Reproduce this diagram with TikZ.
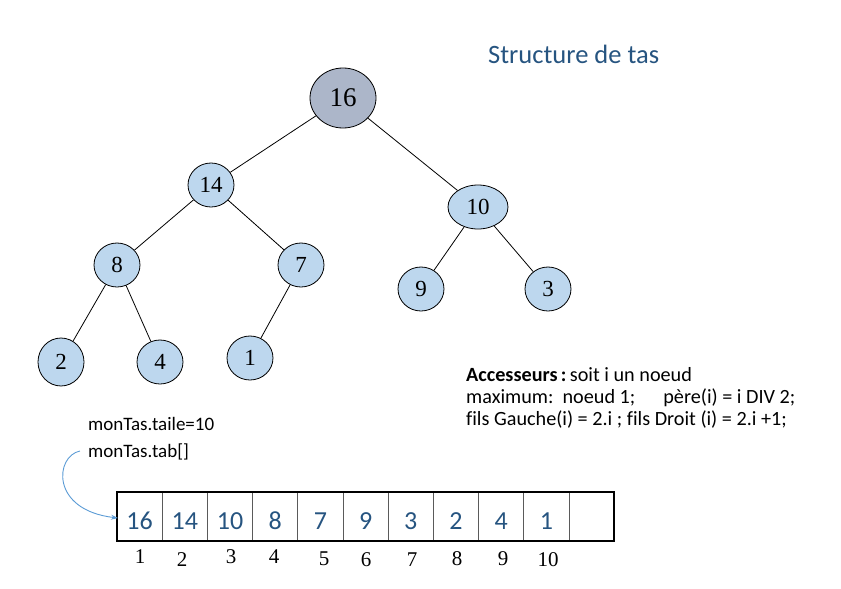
\documentclass[tikz,border=0pt]{standalone}
\usepackage{fontspec}
\setmainfont{Liberation Serif}
\newfontfamily\calib[Ligatures=NoCommon]{Carlito}
\usetikzlibrary{shapes.geometric,arrows.meta}
\definecolor{nodefill}{RGB}{189,215,238}
\definecolor{rootfill}{RGB}{172,182,201}
\definecolor{bluetext}{RGB}{38,84,128}
\definecolor{arrowblue}{RGB}{91,155,213}
\definecolor{sepgray}{RGB}{90,90,90}
\tikzset{
  heapnode/.style={ellipse,draw=black,line width=0.8pt,fill=nodefill,inner sep=0pt,
    minimum width=46pt,minimum height=44pt,font=\fontsize{23}{23}\selectfont},
  rootnode/.style={heapnode,fill=rootfill,minimum width=66pt,minimum height=60pt,font=\fontsize{27}{27}\selectfont},
  edge/.style={draw=black,line width=0.8pt},
  cellnum/.style={anchor=base,text=bluetext,font=\calib\fontsize{26}{26}\selectfont},
  idxnum/.style={anchor=base,font=\fontsize{21}{21}\selectfont},
  sanstext/.style={anchor=base west,inner sep=0pt,font=\calib\fontsize{19}{19}\selectfont},
  acctext/.style={anchor=base west,inner sep=0pt,font=\calib\fontsize{20.2}{20.2}\selectfont},
}
\begin{document}
\begin{tikzpicture}[x=1pt,y=-1pt]
\useasboundingbox (0,0) rectangle (841,589);
% title
\node[anchor=base west,inner sep=0pt,text=bluetext,font=\calib\fontsize{26.5}{26.5}\selectfont] (title) at (488,63) {Structure de tas};
% tree
\node[rootnode] (n16) at (343,98) {16};
\node[heapnode] (n14) at (211,185) {14};
\node[heapnode,minimum width=60pt] (n10) at (478,207) {10};
\node[heapnode] (n8) at (117,265) {8};
\node[heapnode] (n7) at (301,265) {7};
\node[heapnode] (n9) at (421,289) {9};
\node[heapnode] (n3) at (548,289) {3};
\node[heapnode,minimum height=48pt] (n2) at (61,362) {2};
\node[heapnode] (n4) at (160,362) {4};
\node[heapnode] (n1) at (250,358) {1};
\draw[edge] (n16) -- (n14);
\draw[edge] (n16) -- (n10);
\draw[edge] (n14) -- (n8);
\draw[edge] (n14) -- (n7);
\draw[edge] (n10) -- (n9);
\draw[edge] (n10) -- (n3);
\draw[edge] (n8) -- (n2);
\draw[edge] (n8) -- (n4);
\draw[edge] (n7) -- (n1);
% accessors text
\node[acctext] (acc1) at (466,381) {\textbf{Accesseurs\,:}\,soit i un noeud};
\node[acctext] (acc2) at (466,403) {maximum:\ \ noeud 1;\hspace{28pt}père(i) = i DIV 2;};
\node[acctext] (acc3) at (466,425) {fils Gauche(i) = 2.i ; fils Droit (i) = 2.i +1;};
% monTas
\node[sanstext] (taille) at (88,430) {monTas.taile=10};
\node[sanstext] (tab) at (88,457) {monTas.tab[]};
% array
\foreach \i in {1,...,10} {
  \draw[sepgray,line width=1pt] ({117+45.2*\i},492) -- ({117+45.2*\i},541);
}
\draw[black,line width=1.6pt] (117,492) rectangle (614,541);
\draw[black,line width=2.4pt] (117,491.2) -- (117,541.8);
\coordinate (arrtip) at (118,518);
\foreach \v [count=\i] in {16,14,10,8,7,9,3,2,4,1} {
  \node[cellnum] (c\i) at ({117+45.2*\i-22.6},529) {\v};
}
% indices
\node[idxnum] (i1) at (140,563) {1};
\node[idxnum] (i2) at (182,566) {2};
\node[idxnum] (i3) at (231,563) {3};
\node[idxnum] (i4) at (274,563) {4};
\node[idxnum] (i5) at (324,565) {5};
\node[idxnum] (i6) at (366,566) {6};
\node[idxnum] (i7) at (412,566) {7};
\node[idxnum] (i8) at (457,565) {8};
\node[idxnum] (i9) at (503,565) {9};
\node[idxnum] (i10) at (548,566) {10};
% arrow
\coordinate (arrstart) at (80,451);
\draw[arrowblue,line width=0.9pt,-{Stealth[length=7pt,width=5pt]}] (arrstart) .. controls (55,456) and (50,510) .. (arrtip);
\end{tikzpicture}
\end{document}
